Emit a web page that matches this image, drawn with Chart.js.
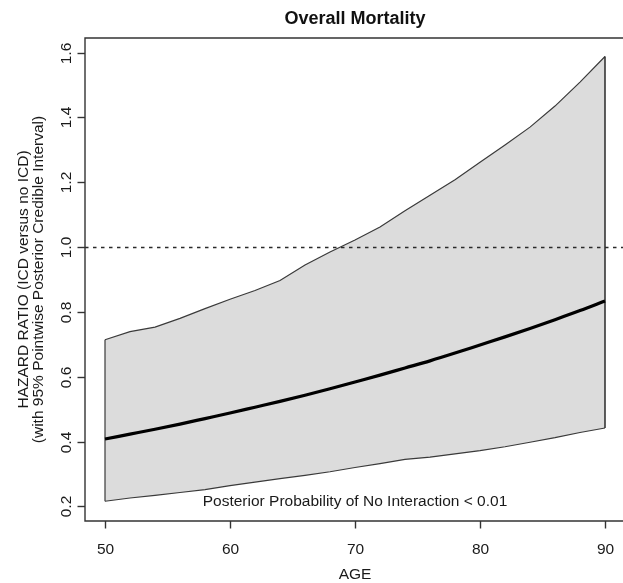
<!DOCTYPE html>
<html>
<head>
<meta charset="utf-8">
<script src="https://cdn.jsdelivr.net/npm/chart.js@4/dist/chart.umd.min.js"></script>
<style>
  html, body { margin: 0; padding: 0; background: #fff; }
  #wrap { width: 623px; height: 583px; position: relative; }
</style>
</head>
<body>
<div id="wrap"><canvas id="hr"></canvas></div>
<script>
// Hazard ratio of ICD vs no ICD by age.
const ages = [50, 52, 54, 56, 58, 60, 62, 64, 66, 68, 70, 72, 74, 76, 78, 80, 82, 84, 86, 88, 90];
const hrMean = [0.408, 0.423, 0.438, 0.454, 0.471, 0.488, 0.506, 0.524, 0.543, 0.563, 0.584,
                0.605, 0.627, 0.649, 0.673, 0.698, 0.723, 0.749, 0.776, 0.804, 0.834];
const hrUpper = [0.714, 0.739, 0.753, 0.780, 0.810, 0.839, 0.866, 0.897, 0.945, 0.985, 1.022,
                 1.062, 1.112, 1.160, 1.208, 1.262, 1.315, 1.370, 1.435, 1.509, 1.588];
const hrLower = [0.216, 0.226, 0.234, 0.243, 0.252, 0.264, 0.275, 0.286, 0.296, 0.307, 0.320,
                 0.332, 0.345, 0.352, 0.362, 0.372, 0.384, 0.398, 0.412, 0.428, 0.442];
const xTicks = [50, 60, 70, 80, 90];
const yTicks = [0.2, 0.4, 0.6, 0.8, 1.0, 1.2, 1.4, 1.6];
const yTickLabels = ['0.2', '0.4', '0.6', '0.8', '1.0', '1.2', '1.4', '1.6'];
const refValue = 1.0;
const title = 'Overall Mortality';
const xTitle = 'AGE';
const yTitle = ['HAZARD RATIO (ICD versus no ICD)', '(with 95% Pointwise Posterior Credible Interval)'];
const note = 'Posterior Probability of No Interaction < 0.01';
const noteAt = { x: 70, y: 0.2 };

const FONT = '"Liberation Sans", Arial, Helvetica, sans-serif';
const INK = '#1a1a1a';
const AXIS = '#333';

const pts = (ys) => ages.map((a, i) => ({ x: a, y: ys[i] }));
const last = ages.length - 1;

// R-style frame, ticks and text, placed through the chart's own scales.
const rFrame = {
    id: 'rFrame',
    afterDraw(chart) {
        const { ctx, chartArea: ca, scales: { x, y } } = chart;
        ctx.save();
        // reference line at HR = 1
        const yr = Math.round(y.getPixelForValue(refValue)) + 0.5;
        ctx.strokeStyle = '#2a2a2a'; ctx.lineWidth = 1.5; ctx.setLineDash([3.5, 4.5]);
        ctx.beginPath(); ctx.moveTo(ca.left, yr); ctx.lineTo(ca.right, yr); ctx.stroke();
        ctx.setLineDash([]);

        // box (right side falls off the canvas in the original)
        ctx.strokeStyle = AXIS; ctx.lineWidth = 1.4;
        ctx.beginPath();
        ctx.moveTo(ca.right, ca.top); ctx.lineTo(ca.left, ca.top);
        ctx.lineTo(ca.left, ca.bottom); ctx.lineTo(ca.right, ca.bottom);
        ctx.stroke();

        ctx.fillStyle = INK;
        ctx.font = '15.5px ' + FONT;
        // x ticks
        ctx.textAlign = 'center'; ctx.textBaseline = 'alphabetic';
        xTicks.forEach(v => {
            const px = Math.round(x.getPixelForValue(v)) + 0.5;
            ctx.beginPath(); ctx.moveTo(px, ca.bottom); ctx.lineTo(px, ca.bottom + 7.5); ctx.stroke();
            ctx.fillText(String(v), px, ca.bottom + 33);
        });
        // y ticks, labels rotated like R's las = 0
        yTicks.forEach((v, i) => {
            const py = Math.round(y.getPixelForValue(v)) + 0.5;
            ctx.beginPath(); ctx.moveTo(ca.left, py); ctx.lineTo(ca.left - 7.5, py); ctx.stroke();
            ctx.save();
            ctx.translate(ca.left - 14, py); ctx.rotate(-Math.PI / 2);
            ctx.fillText(yTickLabels[i], 0, 0);
            ctx.restore();
        });
        const midX = (ca.left + x.getPixelForValue(x.max) + 2) / 2;
        ctx.fillText(xTitle, midX, ca.bottom + 58);
        // y title, two lines
        ctx.save();
        ctx.translate(0, (ca.top + ca.bottom) / 2); ctx.rotate(-Math.PI / 2);
        ctx.fillText(yTitle[0], 0, 27.5);
        ctx.fillText(yTitle[1], 0, 42.5);
        ctx.restore();
        // in-plot note
        ctx.fillText(note, x.getPixelForValue(noteAt.x), y.getPixelForValue(noteAt.y));
        // main title
        ctx.font = 'bold 18px ' + FONT;
        ctx.fillStyle = '#111';
        ctx.fillText(title, midX, 24);
        ctx.restore();
    }
};

new Chart(document.getElementById('hr'), {
    type: 'line',
    data: {
        datasets: [
            { label: 'mean', data: pts(hrMean), borderColor: '#000', borderWidth: 3.2,
              cubicInterpolationMode: 'monotone', fill: false },
            { label: 'left edge', data: [{ x: ages[0], y: hrLower[0] }, { x: ages[0], y: hrUpper[0] }],
              borderColor: '#3a3a3a', borderWidth: 1.2, fill: false },
            { label: 'right edge', data: [{ x: ages[last], y: hrLower[last] }, { x: ages[last], y: hrUpper[last] }],
              borderColor: '#2a2a2a', borderWidth: 1.5, fill: false },
            { label: 'upper', data: pts(hrUpper), borderColor: '#3a3a3a', borderWidth: 1.2,
              backgroundColor: '#dcdcdc', fill: '+1' },
            { label: 'lower', data: pts(hrLower), borderColor: '#3a3a3a', borderWidth: 1.2, fill: false }
        ]
    },
    options: {
        responsive: true,
        maintainAspectRatio: false,
        animation: false,
        layout: { padding: { left: 85, top: 38, right: 0, bottom: 62 } },
        elements: { point: { radius: 0, hoverRadius: 0 }, line: { tension: 0 } },
        scales: {
            x: { type: 'linear', display: false, min: 48.4, max: 91.44 },
            y: { type: 'linear', display: false, min: 0.155, max: 1.645 }
        },
        plugins: {
            legend: { display: false },
            tooltip: { enabled: false },
            filler: { drawTime: 'beforeDatasetsDraw' }
        }
    },
    plugins: [rFrame]
});
</script>
</body>
</html>
